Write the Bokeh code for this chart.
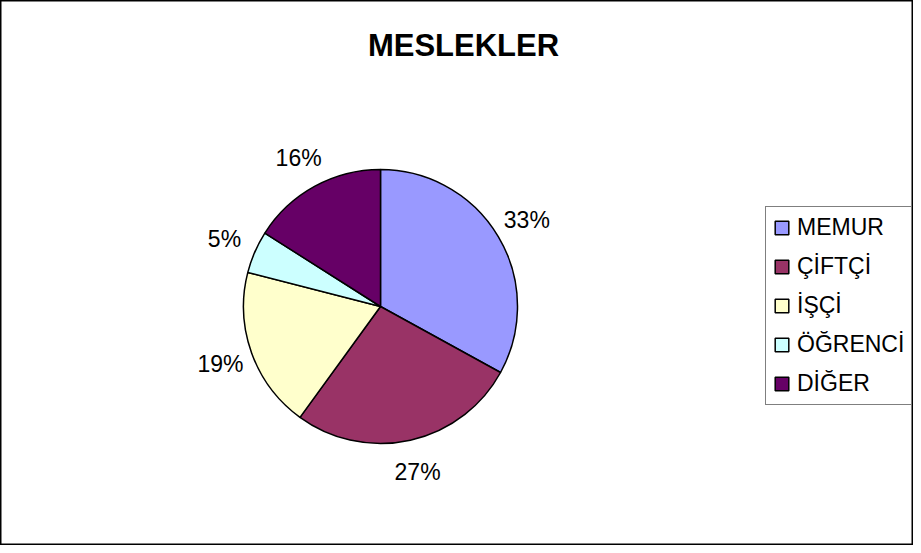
import math
from bokeh.plotting import figure
from bokeh.models import ColumnDataSource, Range1d, Label, Legend, LegendItem
from bokeh.embed import file_html
from bokeh.resources import INLINE

# ---- data ----
categories = ["MEMUR", "ÇİFTÇİ", "İŞÇİ", "ÖĞRENCİ", "DİĞER"]
percents = [33, 27, 19, 5, 16]
colors = ["#9999FF", "#993366", "#FFFFCC", "#CCFFFF", "#660066"]
title_text = "MESLEKLER"

# ---- layout constants (pixels) ----
W, H = 913, 545
CX, CY = 380, H - 306
R = 137
LABEL_R = 170
FONT = "Liberation Sans"

total = sum(percents)
starts, ends, mids = [], [], []
cum = 0.0
for v in percents:
    a0 = math.pi / 2 - 2 * math.pi * cum / total
    cum += v
    a1 = math.pi / 2 - 2 * math.pi * cum / total
    starts.append(a0)
    ends.append(a1)
    mids.append((a0 + a1) / 2)

lx = [CX + LABEL_R * math.cos(m) for m in mids]
ly = [CY + LABEL_R * math.sin(m) for m in mids]
labels = [f"{v}%" for v in percents]

src = ColumnDataSource(dict(name=categories, start=starts, end=ends, color=colors,
                            lx=lx, ly=ly, label=labels))

p = figure(width=W, height=H, x_range=Range1d(0, W), y_range=Range1d(0, H),
           output_backend="svg", toolbar_location=None, min_border=0)
p.axis.visible = False
p.xgrid.visible = False
p.ygrid.visible = False
p.background_fill_color = "white"
p.border_fill_color = "white"
p.outline_line_color = "black"
p.outline_line_width = 2

wedges = p.wedge(x=CX, y=CY, radius=R, start_angle="start", end_angle="end",
                 direction="clock", fill_color="color", line_color="black",
                 line_width=1.5, source=src)

p.text(x="lx", y="ly", text="label", source=src, text_align="center",
       text_baseline="middle", text_font_size="23px", text_color="black",
       text_font={"value": FONT})

p.add_layout(Label(x=463, y=H - 45, text=title_text, text_align="center",
                   text_baseline="alphabetic", text_font=FONT,
                   text_font_size="31px", text_font_style="bold",
                   text_color="black"))

items = [LegendItem(label=c, renderers=[wedges], index=i) for i, c in enumerate(categories)]
legend = Legend(items=items, location=(765, 140), orientation="vertical",
                border_line_color="black", border_line_width=1,
                background_fill_color="white", background_fill_alpha=1,
                label_text_font=FONT, label_text_font_size="23px",
                label_text_color="black",
                glyph_width=17, glyph_height=17, label_standoff=7,
                spacing=12, padding=7, margin=0)
p.add_layout(legend, "center")

open("out.html", "w").write(file_html(p, INLINE))
